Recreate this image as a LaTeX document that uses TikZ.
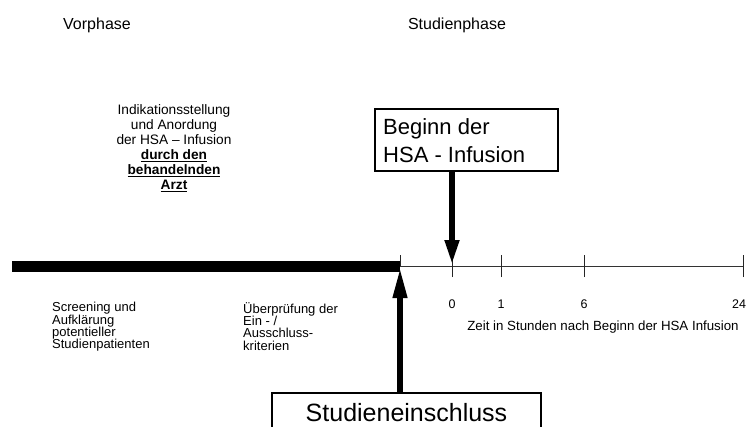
\documentclass[tikz,border=0pt]{standalone}
\usepackage{fontspec}
\setmainfont{Liberation Sans}
\usetikzlibrary{arrows.meta}
\tikzset{
  head/.style={font=\fontsize{16}{18}\selectfont, inner sep=0pt},
  small/.style={font=\fontsize{13}{12.4}\selectfont, align=left, anchor=north west, inner sep=0pt},
  ticklbl/.style={font=\fontsize{12.5}{14}\selectfont, inner sep=0pt},
  tickmark/.style={line width=1pt, draw=black!85},
  bigarrow/.style={line width=6.5pt, -{Triangle[width=13pt,length=26pt]}},
  boxline/.style={line width=2pt},
}
\begin{document}
\begin{tikzpicture}[x=1pt,y=-1pt]
\clip (0,0) rectangle (746,426);
\useasboundingbox (0,0) rectangle (746,426);
\fill[white] (0,0) rectangle (746,426);

\node[head] (vor) at (97,25) {Vorphase};
\node[head] (stud) at (457,25) {Studienphase};

\node[font=\fontsize{13.7}{15}\selectfont, align=center, inner sep=0pt] (ind) at (174,148)
  {Indikationsstellung\\und Anordung\\der HSA -- Infusion\\\textbf{\underline{durch den}}\\\textbf{\underline{behandelnden}}\\\textbf{\underline{Arzt}}};

% timeline
\coordinate (barL) at (12,266);
\coordinate (t0) at (400,266);
\coordinate (tE) at (743,266);
\draw[line width=11pt] (barL) -- (t0);
\draw[line width=1pt, draw=black!80] (t0) -- (tE);

\coordinate (k0) at (452,266);
\coordinate (k1) at (501,266);
\coordinate (k6) at (584,266);
\coordinate (k24) at (743,266);
\draw[tickmark] (400,255) -- (t0);
\foreach \c in {k0,k1,k6,k24} \draw[tickmark] ([yshift=-11pt]\c) -- ([yshift=11pt]\c);

\node[ticklbl] (l0) at (452,304) {0};
\node[ticklbl] (l1) at (501,304) {1};
\node[ticklbl] (l6) at (584,304) {6};
\node[ticklbl] (l24) at (739,304) {24};
\node[font=\fontsize{13.3}{14}\selectfont, inner sep=0pt] (zeit) at (603,327) {Zeit in Stunden nach Beginn der HSA Infusion};

\node[small] (scr) at (52,302) {Screening und\\Aufklärung\\potentieller\\Studienpatienten};
\node[small] (ueb) at (243,302) {Überprüfung der\\Ein - /\\Ausschluss-\\kriterien};

% Beginn box
\node[boxline, draw, minimum width=183pt, minimum height=62pt, inner sep=0pt] (beg) at (466.5,140) {};
\node[font=\fontsize{22}{28}\selectfont, align=left, anchor=north west, inner sep=0pt] (begtxt) at (383,118) {Beginn der\\HSA - Infusion};
\draw[bigarrow] (beg.south -| k0) -- (k0);

% Studieneinschluss box
\coordinate (sbl) at (272,430);
\coordinate (sbr) at (541,430);
\draw[boxline] (sbl) |- (541,393) -- (sbr);
\node[font=\fontsize{25}{28}\selectfont, inner sep=0pt, anchor=base] (ein) at (406.5,421) {Studieneinschluss};
\coordinate (sbtop) at (400,393);
\draw[bigarrow, -{Triangle[width=13pt,length=32pt]}] (sbtop) -- (t0);
\end{tikzpicture}
\end{document}
